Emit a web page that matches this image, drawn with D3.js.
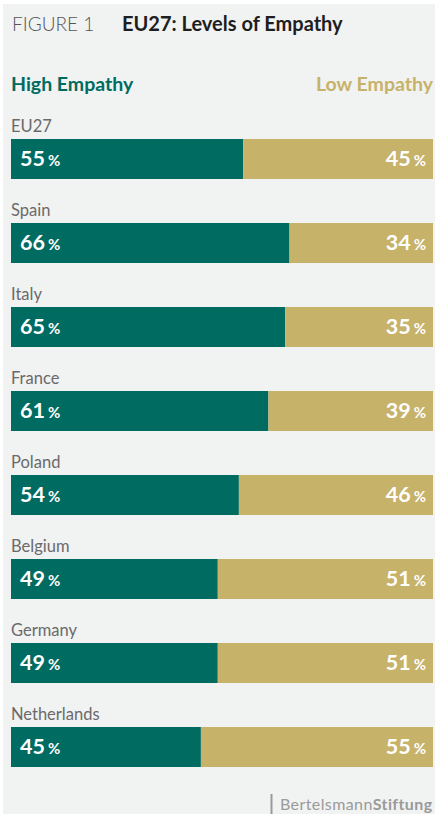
<!DOCTYPE html>
<html>
<head>
<meta charset="utf-8">
<script src="https://cdn.jsdelivr.net/npm/d3@7"></script>
<style>
  html, body { margin: 0; padding: 0; background: #ffffff; }
  svg { display: block; }
  text { font-family: Lato, "Open Sans", sans-serif; }
</style>
</head>
<body>
<svg id="chart" width="435" height="814"></svg>
<script>
// Share of respondents with high vs. low empathy, by country
const countries = ["EU27", "Spain", "Italy", "France", "Poland", "Belgium", "Germany", "Netherlands"];
const highEmpathy = [55, 66, 65, 61, 54, 49, 49, 45];
const lowEmpathy  = [45, 34, 35, 39, 46, 51, 51, 55];
const seriesNames = ["High Empathy", "Low Empathy"];

const colors = { high: "#006b61", low: "#c7b26a" };

const svg = d3.select("#chart");
const W = 435, H = 814;

// panel background
svg.append("rect")
  .attr("x", 3).attr("y", 4)
  .attr("width", W - 3).attr("height", H - 4)
  .attr("fill", "#f1f2f2");

// heading
svg.append("text").attr("x", 12).attr("y", 31).attr("font-size", 19)
  .attr("fill", "#555").attr("font-weight", 300).text("FIGURE 1");
svg.append("text").attr("x", 122).attr("y", 31).attr("font-size", 20)
  .attr("font-weight", 700).attr("fill", "#1e1e1e").text("EU27: Levels of Empathy");

// scales
const x = d3.scaleLinear().domain([0, 100]).range([11, 433]);
const y = d3.scaleBand().domain(countries).range([139, 767]).paddingInner(44 / 84).paddingOuter(0);

// legend
svg.append("text").attr("x", x(0)).attr("y", 91).attr("font-size", 19.5)
  .attr("font-weight", 700).attr("fill", colors.high).text(seriesNames[0]);
svg.append("text").attr("x", x(100)).attr("y", 91).attr("font-size", 19.5)
  .attr("font-weight", 700).attr("fill", colors.low).attr("text-anchor", "end").text(seriesNames[1]);

const rows = countries.map((c, i) => ({ country: c, high: highEmpathy[i], low: lowEmpathy[i] }));

const g = svg.selectAll("g.row").data(rows).join("g").attr("class", "row");

// country names
g.append("text")
  .attr("x", x(0))
  .attr("y", d => y(d.country) - 7)
  .attr("font-size", 16.5)
  .attr("fill", "#6a6a6a")
  .text(d => d.country);

// stacked bars
g.append("rect")
  .attr("x", x(0))
  .attr("y", d => y(d.country))
  .attr("width", d => x(d.high) - x(0))
  .attr("height", y.bandwidth())
  .attr("fill", colors.high);

g.append("rect")
  .attr("x", d => x(d.high))
  .attr("y", d => y(d.country))
  .attr("width", d => x(d.high + d.low) - x(d.high))
  .attr("height", y.bandwidth())
  .attr("fill", colors.low);

// value labels
function valueLabel(sel, accessor, xPos, anchor) {
  const t = sel.append("text")
    .attr("x", xPos)
    .attr("y", d => y(d.country) + y.bandwidth() / 2 + 7)
    .attr("fill", "#ffffff")
    .attr("font-weight", 700)
    .attr("text-anchor", anchor);
  t.append("tspan").attr("font-size", 21.5).text(accessor);
  t.append("tspan").attr("font-size", 15).attr("dx", 3).text("%");
}
valueLabel(g, d => d.high, x(0) + 9, "start");
valueLabel(g, d => d.low, x(100) - 7, "end");

// publisher mark
svg.append("line")
  .attr("x1", 271.5).attr("x2", 271.5).attr("y1", 794).attr("y2", 814)
  .attr("stroke", "#9a9a9a").attr("stroke-width", 2);
const brand = svg.append("text").attr("x", 280).attr("y", 810).attr("font-size", 16).attr("fill", "#9a9a9a")
  .attr("letter-spacing", 0.4);
brand.append("tspan").text("Bertelsmann");
brand.append("tspan").attr("font-weight", 700).text("Stiftung");
</script>
</body>
</html>
